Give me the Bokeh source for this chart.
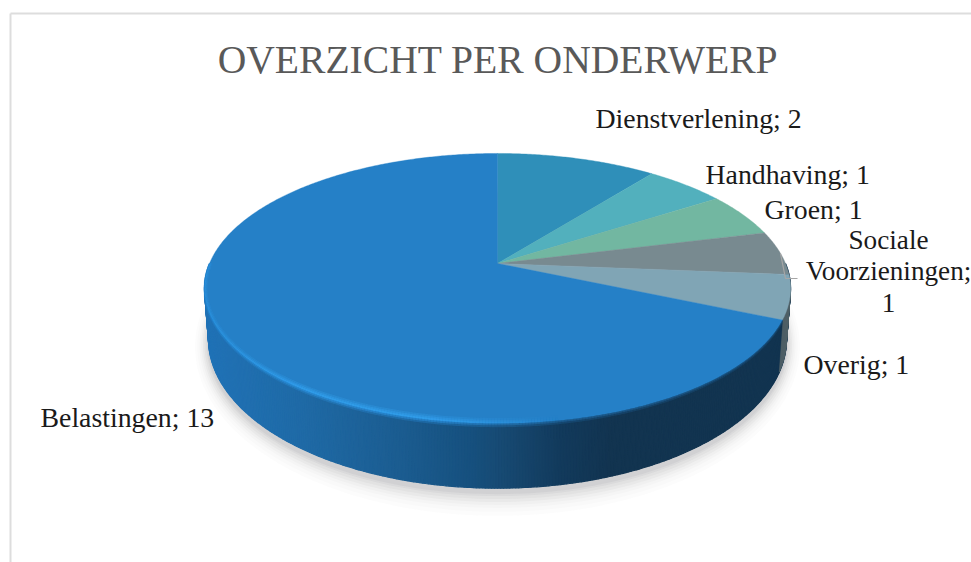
from bokeh.plotting import figure
from bokeh.models import Range1d
from bokeh.core.properties import value
from bokeh.embed import file_html
from bokeh.resources import INLINE
import numpy as np

title = "OVERZICHT PER ONDERWERP"
categories = ["Dienstverlening", "Handhaving", "Groen", "Sociale Voorzieningen", "Overig", "Belastingen"]
values = [2, 1, 1, 1, 1, 13]
colors = ["#2f8fb9", "#52b0bd", "#72b7a1", "#788a90", "#80a5b5", "#2580c7"]

CX, CY = 497.0, 263.0
E = 0.185
TOP = (288.0, 130.4, CY)
LOW = (284.0, 144.0, 311.0)
FONT = "Liberation Serif"


def ring(t, shape):
    X, A, cy = shape
    w = 1 + E * np.cos(t)
    return CX + X * np.sin(t) / w, cy - A * np.cos(t) / w


def mix(stops, x):
    xs = [s[0] for s in stops]
    rgb = [np.interp(x, xs, [s[1][i] for s in stops]) for i in range(3)]
    return "#%02x%02x%02x" % tuple(int(round(c)) for c in rgb)


def band(edges, inner, outer):
    bx, by, mid = [], [], []
    for a, b in zip(edges[:-1], edges[1:]):
        xa, ya = ring(a, outer)
        xb, yb = ring(b, outer)
        xc, yc = ring(b, inner)
        xd, yd = ring(a, inner)
        bx.append([xa, xb, xc, xd])
        by.append([ya, yb, yc, yd])
        mid.append((xa + xb) / 2)
    return bx, by, np.array(mid)


p = figure(width=971, height=562, x_range=Range1d(0, 971), y_range=Range1d(562, 0),
           output_backend="svg", toolbar_location=None, min_border=0)
p.axis.visible = False
p.grid.visible = False
p.outline_line_color = None
p.background_fill_color = "white"

# frame
p.line([10, 10], [562, 13], line_color="#dddddd", line_width=2)
p.line([10, 971], [13, 13], line_color="#dddddd", line_width=2)

# soft shadow round the lower rim
tt = np.radians(np.linspace(0, 360, 241))
for grow, alpha in [(24, .02), (20, .025), (16, .03), (13, .04), (10, .05), (7, .06), (4, .07), (2, .08)]:
    x, y = ring(tt, (LOW[0] + grow * .55, LOW[1] + grow * .8, LOW[2] + 4))
    p.patch(x, y, fill_color="#77777f", fill_alpha=alpha, line_color=None)

# side wall, with a left-to-right shade
wall_stops = [(204, (32, 114, 182)), (300, (31, 106, 166)), (400, (27, 92, 144)),
              (470, (22, 80, 126)), (500, (23, 74, 115)), (560, (18, 58, 92)),
              (610, (18, 52, 80)), (790, (18, 52, 80))]
xs, ys, mid = band(np.radians(np.linspace(90, 270, 361)), LOW, TOP)
cs = [mix(wall_stops, m) for m in mid]
p.patches(xs, ys, fill_color=cs, line_color=cs, line_width=1.2)

# grey tint of the wall under the Overig slice
xs, ys, mid = band(np.radians(np.linspace(94, 113, 20)), LOW, TOP)
p.patches(xs, ys, fill_color="#4f5f66", line_color="#4f5f66", line_width=.6)

# top face slices, from the values
bounds = np.cumsum([0] + values) / sum(values) * 2 * np.pi
for start, end, col in zip(bounds[:-1], bounds[1:], colors):
    t = np.linspace(start, end, max(3, int(np.degrees(end - start)) * 2))
    x, y = ring(t, TOP)
    p.patch(np.r_[CX, x], np.r_[CY, y], fill_color=col, line_color=col, line_width=.4)

# bevel along the rim: a narrow light band at lower left, a blur towards the dark side
rim = np.radians(np.linspace(114, 270, 313))
for d, a0 in [(4.5, .25), (3, .35), (1.6, .45)]:
    inner = (TOP[0] - d * .7, TOP[1] - d, CY)
    bx, by, mid = band(rim, inner, TOP)
    fade = np.interp(mid, [204, 300, 430, 560], [.5, 1, 1, 0]) * a0
    p.patches(bx, by, fill_color="#36a6f5", line_color=None, fill_alpha=fade.tolist())
for d, a0 in [(1.5, .55), (3, .3)]:
    outer = (TOP[0] + d * .4, TOP[1] + d, CY)
    bx, by, mid = band(rim, TOP, outer)
    fade = np.interp(mid, [204, 300, 430, 560], [.6, 1, 1, .9]) * a0
    p.patches(bx, by, fill_color=[mix([(204, (46, 150, 226)), (430, (44, 146, 224)), (560, (34, 110, 170)), (790, (30, 90, 140))], m) for m in mid],
              line_color=None, fill_alpha=fade.tolist())

# leader line
p.line([780, 785, 797], [253, 278, 278], line_color="#a6a6a6", line_width=1.2)

# texts
p.text([497.5], [59], text=[title], text_font=value(FONT), text_font_size="39.6px",
       text_color="#595959", text_align="center", text_baseline="alphabetic")

lab = [f"{c}; {v}" for c, v in zip(categories, values)]
sv = categories[3].split(" ")
tx = [595, 705, 764, 803, 40]
ty = [118, 174, 209, 364, 417]
tl = [lab[0], lab[1], lab[2], lab[4], lab[5]]
p.text(tx, ty, text=tl, text_font=value(FONT), text_font_size="27.8px", text_color="#1a1a1a",
       text_align="left", text_baseline="alphabetic")
p.text([888, 888, 888], [239, 270, 302], text=[sv[0], sv[1] + ";", str(values[3])],
       text_font=value(FONT), text_font_size="27.2px", text_color="#1a1a1a",
       text_align="center", text_baseline="alphabetic")

open("out.html", "w").write(file_html(p, INLINE))
